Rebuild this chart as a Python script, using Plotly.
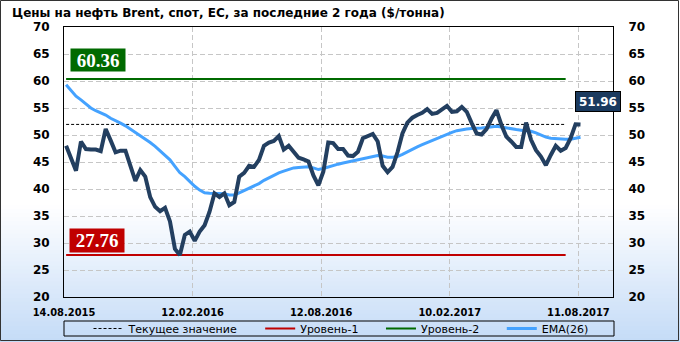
import pandas as pd
import plotly.graph_objects as go

# ---------------- data ----------------
start_date = "2015-08-17"
price = [48.0, 45.7, 43.4, 48.8, 47.4, 47.3, 47.3, 47.0, 51.1, 49.0,
         46.8, 47.1, 47.1, 44.3, 41.5, 43.5, 42.3, 38.5, 36.7, 35.9,
         36.5, 34.0, 28.9, 27.76, 31.5, 32.1, 30.4, 32.1, 33.3, 35.8,
         39.2, 38.5, 39.2, 37.0, 37.6, 42.3, 43.0, 44.3, 44.1, 45.4,
         48.0, 48.6, 48.9, 49.8, 47.3, 48.0, 46.9, 45.8, 45.5, 45.1,
         42.5, 40.7, 43.2, 48.6, 48.5, 47.4, 47.4, 46.2, 46.1, 46.9,
         49.4, 49.9, 50.2, 48.8, 44.3, 43.1, 44.1, 46.8, 50.3, 52.3,
         53.2, 53.7, 54.1, 54.8, 53.9, 54.1, 54.8, 55.4, 54.3, 54.4,
         55.2, 54.3, 52.2, 50.3, 50.1, 51.1, 53.0, 54.6, 51.9, 49.7,
         48.8, 47.8, 47.8, 52.3, 49.1, 47.2, 46.0, 44.4, 46.3, 48.0,
         47.1, 47.6, 49.4, 52.0, 51.96]
ema26 = [59.3, 58.2, 57.2, 56.5, 55.8, 55.0, 54.5, 54.1, 53.7, 53.1,
         52.7, 52.2, 51.7, 51.1, 50.5, 49.8, 49.2, 48.6, 47.9, 47.1,
         46.3, 45.4, 44.2, 43.0, 42.3, 41.4, 40.5, 39.8, 39.3, 39.2,
         39.2, 39.1, 39.1, 38.9, 38.9, 39.3, 39.7, 40.1, 40.5, 41.0,
         41.6, 42.1, 42.6, 43.0, 43.3, 43.6, 43.9, 44.0, 44.1, 44.1,
         43.9, 43.6, 43.8, 44.1, 44.4, 44.6, 44.8, 45.0, 45.1, 45.3,
         45.6, 45.8, 46.0, 46.2, 46.1, 45.9, 45.9, 46.0, 46.4, 46.9,
         47.4, 47.8, 48.2, 48.6, 49.0, 49.4, 49.8, 50.2, 50.5, 50.8,
         51.0, 51.1, 51.2, 51.2, 51.3, 51.4, 51.5, 51.6, 51.5, 51.3,
         51.1, 51.0, 50.9, 50.8, 50.7, 50.4, 50.0, 49.6, 49.4, 49.3,
         49.2, 49.2, 49.2, 49.4, 49.6]
current_value = 51.96
level_1 = 27.76
level_2 = 60.36
tick_dates = ["2015-08-14", "2016-02-12", "2016-08-12", "2017-02-10", "2017-08-11"]
tick_labels = ["14.08.2015", "12.02.2016", "12.08.2016", "10.02.2017", "11.08.2017"]
y_ticks = [20, 25, 30, 35, 40, 45, 50, 55, 60, 65, 70]
legend_names = ["Текущее значение", "Уровень-1", "Уровень-2", "EMA(26)"]

dates = pd.date_range(start_date, periods=len(price), freq="7D")
lvl_x = [dates[0], dates[-4]]

# ---------------- styling ----------------
W, H = 680, 342
L, R, T, B = 64, 613, 27, 297
PW, PH = R - L, B - T


def px_x(p):
    return (p - L) / PW


def px_y(p):
    return (B - p) / PH


FONT = "DejaVu Sans"
NAVY = "#233f60"
BLUE = "#44a2ff"
RED = "#c00000"
GREEN = "#006a00"
PADN = "\u00a0" * 5  # extra spacing between legend entries

fig = go.Figure()

fig.add_trace(go.Scatter(x=lvl_x, y=[current_value] * 2, mode="lines",
                         name=legend_names[0] + PADN,
                         line=dict(color="black", width=1, dash="3px,2px")))
fig.add_trace(go.Scatter(x=lvl_x, y=[level_1] * 2, mode="lines",
                         name=legend_names[1] + PADN,
                         line=dict(color=RED, width=2)))
fig.add_trace(go.Scatter(x=lvl_x, y=[level_2] * 2, mode="lines",
                         name=legend_names[2] + PADN,
                         line=dict(color=GREEN, width=2)))
fig.add_trace(go.Scatter(x=dates, y=ema26, mode="lines", name=legend_names[3],
                         line=dict(color=BLUE, width=3)))
fig.add_trace(go.Scatter(x=dates, y=price, mode="lines", name="Brent",
                         showlegend=False,
                         line=dict(color=NAVY, width=4, shape="linear")))
# invisible trace to materialise the right axis
fig.add_trace(go.Scatter(x=[dates[0]], y=[y_ticks[0]], yaxis="y2", mode="markers",
                         marker=dict(opacity=0), showlegend=False, hoverinfo="skip"))

# background gradient (white -> light blue)
shapes = []
g_top, g_bot = 205, 342
n = 34
c0 = (255, 255, 255)
c1 = (196, 219, 247)
for i in range(n):
    a = g_top + (g_bot - g_top) * i / n
    b = g_top + (g_bot - g_top) * (i + 1) / n
    t = (i + 0.5) / n
    col = "rgb(%d,%d,%d)" % tuple(round(c0[k] + (c1[k] - c0[k]) * t) for k in range(3))
    shapes.append(dict(type="rect", xref="paper", yref="paper",
                       x0=px_x(-5), x1=px_x(W + 5), y0=px_y(b + 0.5), y1=px_y(a),
                       fillcolor=col, line=dict(width=0), layer="below"))
# outer frame
shapes.append(dict(type="rect", xref="paper", yref="paper",
                   x0=px_x(0.5), x1=px_x(678.5), y0=px_y(340.5), y1=px_y(0.5),
                   line=dict(color="#333333", width=1), layer="above"))
# legend frame
shapes.append(dict(type="rect", xref="paper", yref="paper",
                   x0=px_x(64), x1=px_x(614), y0=px_y(336), y1=px_y(321),
                   line=dict(color="black", width=1), layer="above"))

annotations = [
    dict(xref="paper", yref="y", x=px_x(98), y=level_2, yshift=19, text="<b>60.36</b>",
         xanchor="center", yanchor="middle",
         showarrow=False, font=dict(family="Liberation Serif", size=19, color="white"),
         bgcolor=GREEN, width=52, height=20, borderpad=1),
    dict(xref="paper", yref="y", x=px_x(97), y=level_1, yshift=15, text="<b>27.76</b>",
         xanchor="center", yanchor="middle",
         showarrow=False, font=dict(family="Liberation Serif", size=19, color="white"),
         bgcolor=RED, width=52, height=21, borderpad=1),
    dict(xref="x", yref="y", x=dates[-1], y=current_value, xshift=17, yshift=23,
         xanchor="center", yanchor="middle",
         text="<b>51.96</b>", showarrow=False,
         font=dict(family=FONT, size=12, color="white"),
         bgcolor="#1b3a5e", bordercolor="black", borderwidth=1,
         width=42, height=17, borderpad=1),
    dict(xref="paper", yref="paper", x=px_x(10), y=px_y(13), xanchor="left",
         yanchor="middle", showarrow=False,
         text="<b>Цены на нефть Brent, спот, ЕС, за последние 2 года ($/тонна)</b>",
         font=dict(family=FONT, size=12, color="black")),
]

axis_font = dict(family=FONT, size=12, color="black")
fig.update_layout(
    width=W, height=H,
    margin=dict(l=L, r=W - R, t=T, b=H - B, pad=0, autoexpand=False),
    paper_bgcolor="white",
    plot_bgcolor="rgba(0,0,0,0)",
    showlegend=True,
    legend=dict(orientation="h", x=px_x(341), xanchor="center", y=px_y(328.5),
                yanchor="middle", bgcolor="rgba(0,0,0,0)", borderwidth=0,
                font=dict(family=FONT, size=11, color="black"),
                itemwidth=30, tracegroupgap=0),
    xaxis=dict(type="date", range=["2015-08-14", "2017-09-29"],
               tickvals=tick_dates, ticktext=["<b>%s</b>" % s for s in tick_labels],
               tickfont=dict(family="DejaVu Sans Condensed, DejaVu Sans", size=11,
                             color="black"),
               ticks="outside", ticklen=5, tickcolor="rgba(0,0,0,0)",
               showgrid=True, gridcolor="#c6c6c6", griddash="5px,3px",
               gridwidth=1, showline=True, linecolor="black", linewidth=1,
               mirror=True, zeroline=False),
    yaxis=dict(range=[20, 70], tickvals=y_ticks,
               ticktext=["<b>%d</b>" % v for v in y_ticks], tickfont=axis_font,
               ticks="outside", ticklen=11, tickcolor="rgba(0,0,0,0)",
               showgrid=True, gridcolor="#c6c6c6", griddash="5px,3px", gridwidth=1,
               showline=True, linecolor="black", linewidth=1, mirror=True,
               zeroline=False),
    yaxis2=dict(range=[20, 70], overlaying="y", side="right", tickvals=y_ticks,
                ticktext=["<b>%d</b>" % v for v in y_ticks], tickfont=axis_font,
                ticks="outside", ticklen=12, tickcolor="rgba(0,0,0,0)",
                showgrid=False, zeroline=False, showline=False),
    shapes=shapes,
    annotations=annotations,
    hovermode=False,
)

fig.write_html("out.html")
